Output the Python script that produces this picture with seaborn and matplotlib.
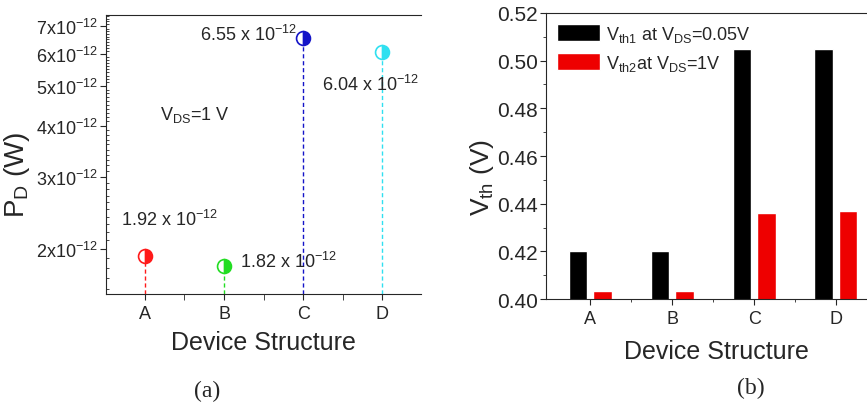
import numpy as np
import pandas as pd
import matplotlib
matplotlib.use('Agg')
import matplotlib.pyplot as plt
from matplotlib.ticker import FixedLocator, NullFormatter
import seaborn as sns

# 데이터
devices = ['A', 'B', 'C', 'D']
power = [1.92e-12, 1.82e-12, 6.55e-12, 6.04e-12]
power_colors = ['#ff1a1a', '#22dd22', '#1414c8', '#30e0f0']
power_labels = [r'1.92 x 10$^{-12}$', r'1.82 x 10$^{-12}$', r'6.55 x 10$^{-12}$', r'6.04 x 10$^{-12}$']
ytick_vals = [2e-12, 3e-12, 4e-12, 5e-12, 6e-12, 7e-12]
ytick_labels = [r'%dx10$^{-12}$' % v for v in [2, 3, 4, 5, 6, 7]]

vth1 = [0.420, 0.420, 0.505, 0.505]
vth2 = [0.4033, 0.4036, 0.436, 0.437]
series = [r'V$_\mathrm{th1}$ at V$_\mathrm{DS}$=0.05V', r'V$_\mathrm{th2}$at V$_\mathrm{DS}$=1V']

sns.set_style('ticks')
plt.rcParams['font.family'] = ['Liberation Sans', 'DejaVu Sans']
plt.rcParams['mathtext.fontset'] = 'custom'
plt.rcParams['mathtext.rm'] = 'Liberation Sans'
plt.rcParams['mathtext.it'] = 'Liberation Sans:italic'
plt.rcParams['mathtext.bf'] = 'Liberation Sans:bold'

fig = plt.figure(figsize=(8.67, 4.10), dpi=100)
ax1 = fig.add_axes([0.1223, 0.280, 0.3635, 0.681])
ax2 = fig.add_axes([0.630, 0.268, 0.370, 0.698])

# (a) 소비 전력
x = np.arange(len(devices))
ymin, ymax = 1.553e-12, 7.45e-12
ax1.set_yscale('log')
for i in range(len(devices)):
    ax1.vlines(x[i], ymin, power[i], colors=power_colors[i], linestyles=(0, (3, 2)), linewidth=1.0)
    ax1.plot(x[i], power[i], 'o', color=power_colors[i], markersize=10, fillstyle='right',
             markerfacecoloralt='white', markeredgecolor=power_colors[i], markeredgewidth=1.2)
ax1.set_ylim(ymin, ymax)
ax1.set_xlim(-0.49, 3.49)
ax1.set_xticks(x)
ax1.set_xticklabels(devices, fontsize=13)
ax1.xaxis.set_minor_locator(FixedLocator([0.5, 1.5, 2.5]))
ax1.yaxis.set_major_locator(FixedLocator(ytick_vals))
ax1.set_yticklabels(ytick_labels, fontsize=13)
ax1.yaxis.set_minor_locator(FixedLocator(np.arange(1.6, 7.45, 0.1) * 1e-12))
ax1.yaxis.set_minor_formatter(NullFormatter())
ax1.tick_params(axis='y', which='major', direction='out', length=4, pad=2)
ax1.tick_params(axis='y', which='minor', direction='in', length=2)
ax1.tick_params(axis='x', which='both', direction='out', length=4)
ax1.set_xlabel('Device Structure', fontsize=18, labelpad=6)
ax1.set_ylabel(r'P$_\mathrm{D}$ (W)', fontsize=20)
ax1.yaxis.set_label_coords(-0.235, 0.43)
ax1.spines['right'].set_visible(False)

ax1.text(1.92, 6.69e-12, power_labels[2], fontsize=13, ha='right', va='center')
ax1.text(2.24, 5.05e-12, power_labels[3], fontsize=13, ha='left', va='center')
ax1.text(-0.30, 2.37e-12, power_labels[0], fontsize=13, ha='left', va='center')
ax1.text(1.20, 1.87e-12, power_labels[1], fontsize=13, ha='left', va='center')
ax1.text(0.19, 4.27e-12, r'V$_\mathrm{DS}$=1 V', fontsize=13, ha='left', va='center')

# (b) 문턱 전압
df = pd.DataFrame({
    'device': devices * 2,
    'vth': vth1 + vth2,
    'series': [series[0]] * 4 + [series[1]] * 4,
})
sns.barplot(data=df, x='device', y='vth', hue='series', palette=['black', '#ee0000'],
            width=0.6, gap=0.25, ax=ax2, saturation=1)
ax2.set_ylim(0.40, 0.52)
ax2.set_xlim(-0.54, 3.38)
ax2.set_yticks(np.arange(0.40, 0.521, 0.02))
ax2.set_yticklabels(['%.2f' % v for v in np.arange(0.40, 0.521, 0.02)], fontsize=15)
ax2.yaxis.set_minor_locator(FixedLocator(np.arange(0.41, 0.52, 0.02)))
ax2.xaxis.set_minor_locator(FixedLocator([0.5, 1.5, 2.5]))
ax2.set_xticklabels(devices, fontsize=13)
ax2.tick_params(axis='both', which='major', direction='out', length=4)
ax2.tick_params(axis='y', which='major', pad=2)
ax2.tick_params(axis='both', which='minor', direction='out', length=2)
ax2.set_xlabel('Device Structure', fontsize=18, labelpad=8)
ax2.xaxis.set_label_coords(0.53, -0.14)
ax2.set_ylabel(r'V$_\mathrm{th}$ (V)', fontsize=19)
ax2.yaxis.set_label_coords(-0.155, 0.43)
ax2.spines['right'].set_visible(False)
ax2.legend(loc='upper left', frameon=False, fontsize=13, handlelength=2.4, handleheight=1.1,
           handletextpad=0.3, borderaxespad=0.2, labelspacing=0.5)

fig.text(0.239, 0.045, '(a)', fontsize=17, family='Liberation Serif', ha='center', va='center')
fig.text(0.866, 0.052, '(b)', fontsize=17, family='Liberation Serif', ha='center', va='center')

fig.savefig('out.png', dpi=100)
